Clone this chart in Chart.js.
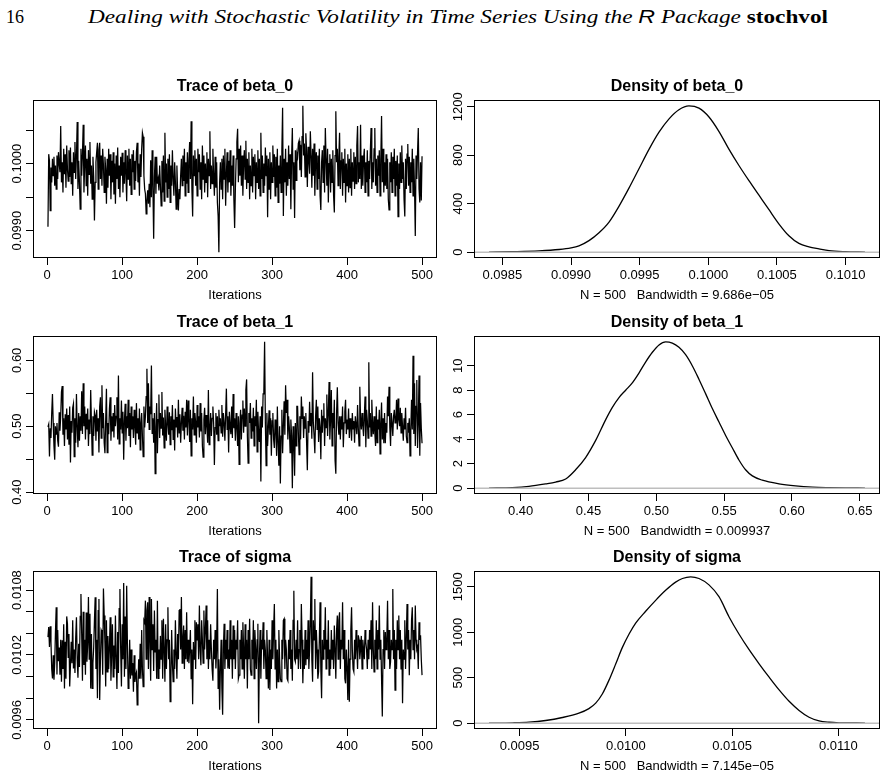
<!DOCTYPE html>
<html><head><meta charset="utf-8">
<script src="https://cdn.jsdelivr.net/npm/chart.js@4.4.1/dist/chart.umd.min.js"></script>
<style>
html,body{margin:0;padding:0;background:#fff;}
body{width:887px;height:777px;position:relative;overflow:hidden;}
#pg{position:absolute;left:6px;top:8px;font-family:"Liberation Serif",serif;font-size:18px;line-height:18px;}
#hd{position:absolute;left:88px;top:8px;font-family:"Liberation Serif",serif;font-style:italic;font-size:18px;line-height:18px;white-space:nowrap;transform-origin:0 0;}
#hd .r{font-family:"Liberation Sans",sans-serif;font-style:italic;}
#hd b{font-style:normal;font-weight:bold;}
canvas{position:absolute;}
</style></head><body>
<div id="pg">16</div>
<div id="hd">Dealing with Stochastic Volatility in Time Series Using the <span class="r">R</span> Package <b>stochvol</b></div>
<script>
// ---------- data ----------
const beta0Trace = [
0.09906,0.10014,0.10004,0.09930,0.09994,0.09972,0.10007,0.09982,0.10010,0.09967,
0.09997,0.09962,0.10012,0.09977,0.10017,0.10000,0.09987,0.10056,0.09972,0.10002,
0.09957,0.10022,0.09984,0.10014,0.09964,0.10027,0.09992,0.09974,0.10020,0.09980,
0.10024,0.09970,0.10002,0.09952,0.10017,0.09987,0.10032,0.09977,0.10012,0.10062,
0.09962,0.10004,0.09972,0.09932,0.10022,0.09982,0.10014,0.10058,0.09957,0.10000,
0.10027,0.09967,0.10007,0.09952,0.10020,0.09984,0.10032,0.09970,0.09997,0.09947,
0.10010,0.09980,0.09915,0.09972,0.10002,0.10017,0.10031,0.09962,0.10020,0.10031,
0.09977,0.10012,0.09967,0.10022,0.09997,0.09957,0.10010,0.09992,0.09940,0.10007,
0.09964,0.10022,0.09982,0.10014,0.09947,0.10004,0.09972,0.10017,0.09954,0.10000,
0.09940,0.10012,0.09977,0.10024,0.09962,0.09997,0.09950,0.10010,0.09982,0.10016,
0.09957,0.10002,0.09970,0.10020,0.09984,0.09944,0.10012,0.09977,0.10022,0.09967,
0.10007,0.09954,0.10014,0.09987,0.10020,0.09962,0.10004,0.09974,0.10017,0.10031,
0.09972,0.10000,0.09952,0.10014,0.09980,0.10022,0.10046,0.10040,0.09982,0.09962,
0.09955,0.09925,0.09945,0.09960,0.09940,0.09970,0.09935,0.10005,0.09950,0.10020,
0.09965,0.09888,0.09980,0.10010,0.09955,0.10010,0.09970,0.09977,0.09960,0.09997,
0.09967,0.09937,0.10004,0.09957,0.10012,0.09944,0.10046,0.09972,0.10000,0.09950,
0.10007,0.09962,0.10014,0.09942,0.09997,0.09967,0.10020,0.09977,0.09952,0.10002,
0.09972,0.09932,0.09997,0.09957,0.09930,0.09962,0.09947,0.09982,0.10007,0.09967,
0.10012,0.09974,0.10022,0.09952,0.10002,0.09970,0.10017,0.09957,0.10004,0.10032,
0.09977,0.10063,0.09962,0.09921,0.10012,0.09982,0.10020,0.09967,0.10007,0.09952,
0.10022,0.09987,0.10014,0.09962,0.10002,0.09947,0.10027,0.09977,0.10012,0.09957,
0.10000,0.09972,0.10017,0.09950,0.10007,0.09982,0.10048,0.09962,0.09997,0.09970,
0.10022,0.09980,0.09952,0.10010,0.09964,0.10002,0.09942,0.09922,0.09868,0.09972,
0.10002,0.09962,0.10007,0.09947,0.10012,0.09977,0.10022,0.09937,0.09984,0.10017,
0.09957,0.10004,0.09972,0.10020,0.09952,0.09997,0.09967,0.10012,0.09947,0.09904,
0.09962,0.10007,0.10032,0.10052,0.09972,0.10022,0.09982,0.10027,0.09967,0.10012,
0.09952,0.10002,0.10020,0.09977,0.10034,0.09962,0.10007,0.09972,0.10017,0.09947,
0.09997,0.09967,0.10022,0.09957,0.10010,0.09982,0.10014,0.09947,0.10002,0.09972,
0.10020,0.09962,0.10007,0.09952,0.10046,0.09977,0.10012,0.09957,0.10000,0.09967,
0.10024,0.09982,0.10012,0.09920,0.10007,0.09962,0.10017,0.09947,0.10002,0.09972,
0.10027,0.09980,0.10014,0.09952,0.10010,0.09964,0.10022,0.09942,0.09997,0.09970,
0.10012,0.09957,0.10020,0.10083,0.09922,0.10007,0.09972,0.10022,0.09952,0.10002,
0.09967,0.10027,0.09977,0.10014,0.09932,0.10010,0.10053,0.09962,0.10002,0.09919,
0.10020,0.09975,0.10015,0.10010,0.10030,0.10034,0.09990,0.10028,0.09980,0.10040,
0.10086,0.10012,0.10030,0.09980,0.10045,0.10018,0.09965,0.10025,0.10005,0.09985,
0.10048,0.10012,0.09964,0.10022,0.09982,0.10030,0.09952,0.10007,0.10017,0.09962,
0.10012,0.09977,0.10022,0.09952,0.09931,0.10002,0.10020,0.09972,0.10027,0.09957,
0.10053,0.10007,0.09967,0.10022,0.09942,0.10000,0.10014,0.09957,0.10007,0.09972,
0.10020,0.09952,0.09927,0.10012,0.10078,0.10002,0.10022,0.09967,0.10010,0.10046,
0.09962,0.10004,0.10017,0.09952,0.10007,0.09972,0.10022,0.09942,0.10000,0.09967,
0.10014,0.09957,0.10007,0.09964,0.10022,0.09952,0.10002,0.09974,0.10017,0.09962,
0.10010,0.09970,0.10027,0.10056,0.09972,0.10002,0.09977,0.10058,0.09962,0.10012,
0.09967,0.10007,0.10022,0.09957,0.10002,0.09972,0.10020,0.09952,0.10004,0.09977,
0.10017,0.10053,0.09962,0.10002,0.09972,0.10022,0.10053,0.09967,0.10007,0.09957,
0.10012,0.09982,0.10020,0.09952,0.10007,0.10071,0.09972,0.10022,0.09957,0.10002,
0.09967,0.10014,0.09962,0.10007,0.09947,0.09931,0.10002,0.09972,0.10017,0.09957,
0.10010,0.09977,0.10022,0.09952,0.10004,0.09967,0.10012,0.09921,0.10000,0.09962,
0.10017,0.09972,0.10027,0.09977,0.10002,0.09947,0.09921,0.10007,0.09962,0.10014,
0.10029,0.09967,0.10010,0.09957,0.10002,0.09972,0.10022,0.09952,0.10007,0.09962,
0.09892,0.10012,0.09977,0.10017,0.10053,0.09962,0.09942,0.10002,0.09945,0.10011
];
const beta1Trace = [
0.499,0.503,0.454,0.497,0.482,0.520,0.549,0.505,0.470,0.449,
0.500,0.488,0.505,0.478,0.469,0.521,0.493,0.515,0.552,0.561,
0.487,0.512,0.470,0.518,0.495,0.527,0.480,0.517,0.472,0.530,
0.445,0.508,0.490,0.528,0.534,0.454,0.512,0.475,0.549,0.500,
0.468,0.520,0.478,0.515,0.493,0.553,0.488,0.565,0.500,0.530,
0.480,0.519,0.495,0.527,0.470,0.510,0.488,0.555,0.505,0.456,
0.515,0.485,0.522,0.517,0.478,0.525,0.492,0.512,0.460,0.530,
0.544,0.482,0.562,0.497,0.520,0.475,0.459,0.510,0.557,0.460,
0.505,0.488,0.527,0.544,0.478,0.515,0.492,0.520,0.483,0.532,
0.500,0.515,0.544,0.480,0.577,0.473,0.512,0.495,0.539,0.490,
0.522,0.449,0.508,0.534,0.478,0.515,0.497,0.540,0.485,0.520,
0.468,0.530,0.495,0.515,0.482,0.525,0.500,0.472,0.535,0.490,
0.512,0.480,0.527,0.464,0.505,0.520,0.485,0.454,0.530,0.498,
0.515,0.545,0.587,0.505,0.565,0.495,0.530,0.518,0.592,0.489,
0.512,0.475,0.520,0.428,0.498,0.535,0.459,0.510,0.548,0.482,
0.520,0.497,0.552,0.486,0.513,0.467,0.525,0.499,0.478,0.530,
0.505,0.487,0.521,0.472,0.515,0.494,0.532,0.480,0.510,0.463,
0.527,0.499,0.514,0.483,0.540,0.490,0.518,0.475,0.505,0.528,
0.493,0.516,0.480,0.522,0.498,0.540,0.486,0.539,0.510,0.476,
0.525,0.455,0.512,0.495,0.545,0.487,0.520,0.505,0.475,0.532,
0.498,0.515,0.483,0.535,0.492,0.520,0.470,0.453,0.510,0.528,
0.488,0.517,0.502,0.475,0.555,0.472,0.495,0.520,0.485,0.512,
0.530,0.505,0.441,0.498,0.520,0.487,0.515,0.478,0.525,0.500,
0.512,0.490,0.532,0.484,0.520,0.505,0.478,0.518,0.557,0.495,
0.515,0.460,0.522,0.500,0.488,0.530,0.482,0.549,0.497,0.512,
0.478,0.520,0.500,0.470,0.515,0.442,0.505,0.525,0.480,0.517,
0.539,0.490,0.527,0.500,0.555,0.571,0.486,0.444,0.520,0.505,
0.535,0.482,0.512,0.492,0.528,0.470,0.515,0.500,0.540,0.461,
0.522,0.488,0.476,0.515,0.416,0.530,0.498,0.549,0.555,0.628,
0.505,0.440,0.520,0.470,0.498,0.524,0.487,0.512,0.455,0.508,
0.520,0.480,0.467,0.510,0.495,0.455,0.530,0.475,0.440,0.500,
0.413,0.485,0.525,0.459,0.500,0.538,0.487,0.562,0.520,0.540,
0.480,0.515,0.498,0.460,0.510,0.485,0.406,0.500,0.480,0.425,
0.505,0.470,0.530,0.530,0.490,0.457,0.515,0.480,0.545,0.512,
0.530,0.482,0.515,0.497,0.520,0.475,0.433,0.508,0.490,0.537,
0.500,0.520,0.481,0.582,0.505,0.485,0.459,0.515,0.540,0.495,
0.530,0.476,0.512,0.498,0.450,0.525,0.490,0.515,0.535,0.470,
0.512,0.498,0.548,0.485,0.520,0.567,0.480,0.510,0.555,0.470,
0.520,0.497,0.540,0.448,0.428,0.520,0.559,0.505,0.487,0.515,
0.480,0.515,0.495,0.530,0.468,0.505,0.522,0.540,0.488,0.510,
0.495,0.527,0.482,0.512,0.500,0.478,0.520,0.496,0.508,0.475,
0.515,0.502,0.488,0.532,0.497,0.470,0.560,0.512,0.495,0.520,
0.500,0.485,0.515,0.545,0.468,0.525,0.509,0.482,0.597,0.498,
0.520,0.485,0.540,0.505,0.488,0.515,0.490,0.470,0.530,0.475,
0.510,0.495,0.525,0.458,0.505,0.536,0.480,0.512,0.474,0.520,
0.474,0.505,0.490,0.545,0.515,0.560,0.498,0.470,0.520,0.505,
0.485,0.515,0.525,0.505,0.508,0.540,0.495,0.542,0.510,0.500,
0.528,0.490,0.520,0.500,0.478,0.512,0.495,0.528,0.485,0.475,
0.505,0.490,0.512,0.455,0.495,0.540,0.495,0.607,0.488,0.565,
0.470,0.530,0.570,0.467,0.505,0.577,0.455,0.535,0.497,0.474
];
const sigmaTrace = [
0.010365,0.010457,0.010273,0.010466,0.010322,0.010070,0.009983,0.010196,0.009970,0.010124,
0.010411,0.010641,0.010020,0.010430,0.010142,0.010268,0.010016,0.010340,0.009952,0.010335,
0.010070,0.010484,0.009890,0.010322,0.009980,0.010556,0.010488,0.010178,0.010394,0.009908,
0.010105,0.010322,0.010124,0.010520,0.010074,0.010250,0.010034,0.010358,0.010549,0.010160,
0.009989,0.010304,0.010088,0.010556,0.010763,0.010381,0.009962,0.010600,0.010106,0.010340,
0.010016,0.010592,0.010136,0.010304,0.010736,0.010160,0.010580,0.009890,0.010394,0.009891,
0.010124,0.010268,0.010520,0.010733,0.010070,0.010340,0.009799,0.010610,0.010717,0.009784,
0.010160,0.010430,0.010411,0.010016,0.010815,0.010564,0.010304,0.009908,0.010520,0.010044,
0.010376,0.010070,0.010268,0.010549,0.009962,0.010214,0.010484,0.009998,0.010286,0.010070,
0.010564,0.010160,0.009885,0.010412,0.010034,0.010628,0.010809,0.010250,0.009908,0.010484,
0.010160,0.010864,0.009998,0.010556,0.010070,0.010840,0.010304,0.009890,0.009990,0.010340,
0.009980,0.010250,0.010010,0.010124,0.009860,0.010196,0.009950,0.010016,0.010040,0.009738,
0.009890,0.010160,0.009980,0.010304,0.009980,0.010430,0.010070,0.009906,0.010520,0.010500,
0.010702,0.010160,0.010610,0.010687,0.010070,0.010736,0.010340,0.009962,0.010717,0.010250,
0.010484,0.010052,0.010610,0.010228,0.010340,0.009980,0.010700,0.009983,0.010250,0.010070,
0.010376,0.010160,0.010520,0.009980,0.010534,0.010250,0.009952,0.010484,0.010070,0.010340,
0.010641,0.010160,0.010340,0.009768,0.009980,0.010430,0.010124,0.009952,0.010250,0.010070,
0.010520,0.010196,0.009980,0.010394,0.010160,0.010610,0.010625,0.010250,0.010736,0.010124,
0.010340,0.010472,0.010070,0.010430,0.010160,0.010595,0.010136,0.010340,0.010124,0.010250,
0.010430,0.009980,0.010250,0.009744,0.010319,0.010160,0.010520,0.010070,0.010503,0.010340,
0.010484,0.010160,0.010656,0.010250,0.010105,0.010520,0.010340,0.010124,0.010610,0.010250,
0.010430,0.010656,0.010160,0.010520,0.010070,0.010340,0.010160,0.010484,0.010250,0.010070,
0.009962,0.010340,0.010160,0.010430,0.010074,0.010250,0.010809,0.009890,0.010160,0.009692,
0.010070,0.010340,0.009890,0.009646,0.010250,0.010488,0.010070,0.010340,0.010160,0.010430,
0.010074,0.010250,0.010070,0.010520,0.010160,0.010340,0.009980,0.010472,0.010160,0.010430,
0.010070,0.010340,0.010250,0.010520,0.009980,0.010013,0.010340,0.010160,0.010430,0.010070,
0.010503,0.010250,0.009980,0.010484,0.010160,0.010340,0.009890,0.010430,0.010160,0.010534,
0.010070,0.010013,0.010340,0.010160,0.010520,0.009980,0.010430,0.010250,0.010070,0.010340,
0.010488,0.009569,0.010160,0.010430,0.009980,0.010340,0.010250,0.010503,0.010070,0.010340,
0.010243,0.009980,0.010430,0.010160,0.009890,0.010340,0.009875,0.010250,0.010070,0.010520,
0.010160,0.010430,0.010671,0.010070,0.010340,0.009890,0.010250,0.009952,0.010430,0.010160,
0.009980,0.009952,0.010340,0.010160,0.010520,0.010534,0.010070,0.010340,0.010250,0.009980,
0.009962,0.010340,0.010160,0.010430,0.010070,0.010250,0.009962,0.010520,0.010794,0.010160,
0.010136,0.010340,0.010160,0.010520,0.010070,0.010250,0.010430,0.010070,0.010671,0.010340,
0.009937,0.010250,0.010070,0.010430,0.010105,0.010340,0.010160,0.010520,0.010070,0.010250,
0.010484,0.010922,0.010160,0.009952,0.010520,0.010340,0.010717,0.010070,0.010430,0.010250,
0.009980,0.010044,0.010340,0.010687,0.010070,0.009799,0.010340,0.010160,0.010430,0.010250,
0.010641,0.010070,0.010340,0.010160,0.010520,0.010013,0.010250,0.010070,0.010430,0.010160,
0.010340,0.010070,0.010472,0.010250,0.009980,0.010430,0.010564,0.010160,0.010520,0.010595,
0.010070,0.010340,0.010250,0.010687,0.010160,0.010430,0.009980,0.009937,0.010250,0.010070,
0.009784,0.010340,0.009768,0.010160,0.010430,0.010641,0.010250,0.010070,0.010044,0.010340,
0.010160,0.010430,0.010250,0.010070,0.010381,0.010340,0.010160,0.010250,0.010376,0.010070,
0.010340,0.010250,0.010160,0.010430,0.010319,0.010250,0.010070,0.010340,0.010160,0.010430,
0.010250,0.010520,0.010070,0.010687,0.010250,0.010044,0.010340,0.010160,0.010520,0.010070,
0.010430,0.010250,0.010656,0.010160,0.010340,0.009980,0.009631,0.010250,0.010430,0.010070,
0.010411,0.010250,0.010340,0.010702,0.010160,0.010430,0.010070,0.010136,0.010340,0.010250,
0.010809,0.010160,0.010430,0.009875,0.010340,0.010070,0.010520,0.010250,0.010564,0.010160,
0.010430,0.010070,0.010340,0.009753,0.010250,0.010160,0.010520,0.010070,0.010340,0.010671,
0.010250,0.010430,0.010013,0.010340,0.010160,0.010520,0.010641,0.010250,0.010430,0.010160,
0.010656,0.010340,0.010250,0.010273,0.010070,0.010503,0.010340,0.010381,0.010160,0.010013
];

const beta0DensX = [0.098403,0.098573,0.098767,0.098913,0.099000,0.099058,0.099131,0.099204,0.099277,0.099350,0.099422,0.099495,0.099568,0.099641,0.099714,0.099786,0.099859,0.099932,0.100005,0.100078,0.100150,0.100223,0.100296,0.100369,0.100442,0.100515,0.100587,0.100660,0.100733,0.100806,0.100879,0.101000,0.101141];
const beta0DensY = [0,4,11,22,35,52,95,160,248,380,528,688,848,990,1100,1175,1207,1188,1115,995,850,715,590,470,350,232,135,72,44,27,12,4,1];

const beta1DensX = [0.3767,0.3939,0.4061,0.4184,0.4258,0.4332,0.4405,0.4479,0.4553,0.4627,0.4676,0.4725,0.4774,0.4823,0.4872,0.4921,0.4971,0.5020,0.5069,0.5118,0.5167,0.5216,0.5265,0.5314,0.5364,0.5413,0.5462,0.5511,0.5560,0.5609,0.5658,0.5708,0.5781,0.5904,0.6027,0.6150,0.6273,0.6396,0.6538];
const beta1DensY = [0,0.05,0.15,0.35,0.5,0.75,1.5,2.5,3.9,5.6,6.6,7.4,8.0,8.6,9.4,10.3,11.1,11.7,11.95,11.85,11.5,10.9,10.0,8.9,7.7,6.5,5.4,4.3,3.3,2.3,1.5,1.0,0.65,0.35,0.18,0.08,0.04,0.02,0.01];

const sigmaDensX = [0.009356,0.009465,0.009544,0.009622,0.009701,0.009779,0.009826,0.009858,0.009889,0.009920,0.009952,0.009983,0.010015,0.010046,0.010093,0.010140,0.010187,0.010234,0.010266,0.010305,0.010344,0.010391,0.010438,0.010485,0.010532,0.010579,0.010626,0.010674,0.010721,0.010768,0.010815,0.010862,0.010909,0.010956,0.011003,0.011125];
const sigmaDensY = [0,4,11,29,62,110,160,220,320,470,650,830,980,1100,1230,1350,1460,1550,1590,1608,1590,1520,1390,1170,980,810,655,505,365,240,140,65,25,10,4,1];

// tick values and tick label texts
const traceXTicks = [0,100,200,300,400,500];
const traceXLabels = ['0','100','200','300','400','500'];
const beta0TraceYTicks = [0.0990,0.0995,0.1000,0.1005];
const beta0TraceYLabels = ['0.0990','','0.1000',''];
const beta1TraceYTicks = [0.40,0.45,0.50,0.55,0.60];
const beta1TraceYLabels = ['0.40','','0.50','','0.60'];
const sigmaTraceYTicks = [0.0096,0.0098,0.0100,0.0102,0.0104,0.0106,0.0108];
const sigmaTraceYLabels = ['0.0096','','','0.0102','','','0.0108'];
const beta0DensXTicks = [0.0985,0.0990,0.0995,0.1000,0.1005,0.1010];
const beta0DensXLabels = ['0.0985','0.0990','0.0995','0.1000','0.1005','0.1010'];
const beta0DensYTicks = [0,400,800,1200];
const beta0DensYLabels = ['0','400','800','1200'];
const beta1DensXTicks = [0.40,0.45,0.50,0.55,0.60,0.65];
const beta1DensXLabels = ['0.40','0.45','0.50','0.55','0.60','0.65'];
const beta1DensYTicks = [0,2,4,6,8,10];
const beta1DensYLabels = ['0','2','4','6','8','10'];
const sigmaDensXTicks = [0.0095,0.0100,0.0105,0.0110];
const sigmaDensXLabels = ['0.0095','0.0100','0.0105','0.0110'];
const sigmaDensYTicks = [0,500,1000,1500];
const sigmaDensYLabels = ['0','500','1000','1500'];

const titles = ['Trace of beta_0','Density of beta_0','Trace of beta_1','Density of beta_1','Trace of sigma','Density of sigma'];
const subTitles = ['Iterations','N = 500   Bandwidth = 9.686e\u221205','Iterations','N = 500   Bandwidth = 0.009937','Iterations','N = 500   Bandwidth = 7.145e\u221205'];

// ---------- layout ----------
const FONT = '"Liberation Sans", Arial, Helvetica, sans-serif';
const colLeft = [0, 441], colWidth = [441, 443];
const boxTop = [100, 336, 571];
const BOX_H = 158, TITLE_H = 24, XAX_H = 45, YAX_W = 33, RPAD = 4;

function rRange(arr){ // R's default 4% axis extension
  let lo = Math.min(...arr), hi = Math.max(...arr); const d = (hi-lo)*0.04; return [lo-d, hi+d];
}

const panels = [
  {title:titles[0], sub:subTitles[0], xs:beta0Trace.map((v,i)=>i+1), ys:beta0Trace, trace:true,
   xT:traceXTicks, xL:traceXLabels, yT:beta0TraceYTicks, yL:beta0TraceYLabels},
  {title:titles[1], sub:subTitles[1], xs:beta0DensX, ys:beta0DensY, trace:false,
   xT:beta0DensXTicks, xL:beta0DensXLabels, yT:beta0DensYTicks, yL:beta0DensYLabels},
  {title:titles[2], sub:subTitles[2], xs:beta1Trace.map((v,i)=>i+1), ys:beta1Trace, trace:true,
   xT:traceXTicks, xL:traceXLabels, yT:beta1TraceYTicks, yL:beta1TraceYLabels},
  {title:titles[3], sub:subTitles[3], xs:beta1DensX, ys:beta1DensY, trace:false,
   xT:beta1DensXTicks, xL:beta1DensXLabels, yT:beta1DensYTicks, yL:beta1DensYLabels},
  {title:titles[4], sub:subTitles[4], xs:sigmaTrace.map((v,i)=>i+1), ys:sigmaTrace, trace:true,
   xT:traceXTicks, xL:traceXLabels, yT:sigmaTraceYTicks, yL:sigmaTraceYLabels},
  {title:titles[5], sub:subTitles[5], xs:sigmaDensX, ys:sigmaDensY, trace:false,
   xT:sigmaDensXTicks, xL:sigmaDensXLabels, yT:sigmaDensYTicks, yL:sigmaDensYLabels}
];

function makePlugin(p){
  return {
    id:'rplot',
    afterDatasetsDraw(chart){
      if (p.trace) return;
      const {ctx, chartArea:a, scales:{y}} = chart;
      const py = y.getPixelForValue(0);
      ctx.save(); ctx.strokeStyle = '#BEBEBE'; ctx.lineWidth = 1.5;
      ctx.beginPath(); ctx.moveTo(a.left, py); ctx.lineTo(a.right, py); ctx.stroke(); ctx.restore();
    },
    afterDraw(chart){
      const {ctx, chartArea:a, scales:{y}} = chart;
      ctx.save();
      ctx.strokeStyle = '#000'; ctx.lineWidth = 1;
      ctx.strokeRect(Math.round(a.left)+0.5, Math.round(a.top)+0.5, Math.round(a.right-a.left)-1, Math.round(a.bottom-a.top)-1);
      ctx.fillStyle = '#000'; ctx.font = '13px ' + FONT;
      ctx.textAlign = 'center'; ctx.textBaseline = 'middle';
      p.yT.forEach((v,i)=>{
        if (!p.yL[i]) return;
        const py = y.getPixelForValue(v);
        ctx.save(); ctx.translate(a.left - 16, py); ctx.rotate(-Math.PI/2);
        ctx.fillText(p.yL[i], 0, 0); ctx.restore();
      });
      ctx.restore();
    }
  };
}

panels.forEach((p, k)=>{
  const col = k % 2, row = Math.floor(k / 2);
  const cv = document.createElement('canvas');
  const W = colWidth[col], H = TITLE_H + BOX_H + XAX_H;
  cv.width = W; cv.height = H;
  cv.style.left = colLeft[col] + 'px'; cv.style.top = (boxTop[row] - TITLE_H) + 'px';
  cv.style.width = W + 'px'; cv.style.height = H + 'px';
  document.body.appendChild(cv);

  const xr = rRange(p.xs);
  const yr = p.trace ? rRange(p.ys) : rRange([0, ...p.ys]);
  const pts = p.ys.map((v,i)=>({x:p.xs[i], y:v}));

  const gridOpts = {display:true, drawOnChartArea:false, drawTicks:true, tickLength:7, color:'#000', lineWidth:1};

  new Chart(cv.getContext('2d'), {
    type:'line',
    data:{datasets:[{data:pts, borderColor:'#000', borderWidth:p.trace?1.25:1.3, pointRadius:0,
      tension:p.trace?0:0.4, cubicInterpolationMode:p.trace?'default':'monotone', fill:false}]},
    options:{
      responsive:false, animation:false, devicePixelRatio:1, events:[],
      layout:{padding:{left:0, right:RPAD, top:0, bottom:0}},
      plugins:{
        legend:{display:false}, tooltip:{enabled:false},
        title:{display:true, text:p.title, fullSize:false, color:'#000',
          font:{family:FONT, size:16, weight:'bold', lineHeight:1.2}, padding:{top:1.4, bottom:3.4}}
      },
      scales:{
        x:{type:'linear', min:xr[0], max:xr[1],
          afterBuildTicks:s=>{ s.ticks = p.xT.map(v=>({value:v})); },
          afterFit:s=>{ s.height = XAX_H; },
          grid:gridOpts, border:{display:false},
          ticks:{autoSkip:false, maxRotation:0, minRotation:0, padding:3, color:'#000',
            font:{family:FONT, size:13}, callback:(v,i)=>p.xL[i]},
          title:{display:true, text:p.sub, color:'#000', font:{family:FONT, size:13}, padding:{top:0, bottom:0}}
        },
        y:{type:'linear', min:yr[0], max:yr[1],
          afterBuildTicks:s=>{ s.ticks = p.yT.map(v=>({value:v})); },
          afterFit:s=>{ s.width = YAX_W; },
          grid:gridOpts, border:{display:false},
          ticks:{display:false}
        }
      }
    },
    plugins:[makePlugin(p)]
  });
});

// header width fit
const hd = document.getElementById('hd');
const hw = hd.getBoundingClientRect().width;
hd.style.transform = 'scaleX(' + (740 / hw) + ')';
</script>
</body></html>
